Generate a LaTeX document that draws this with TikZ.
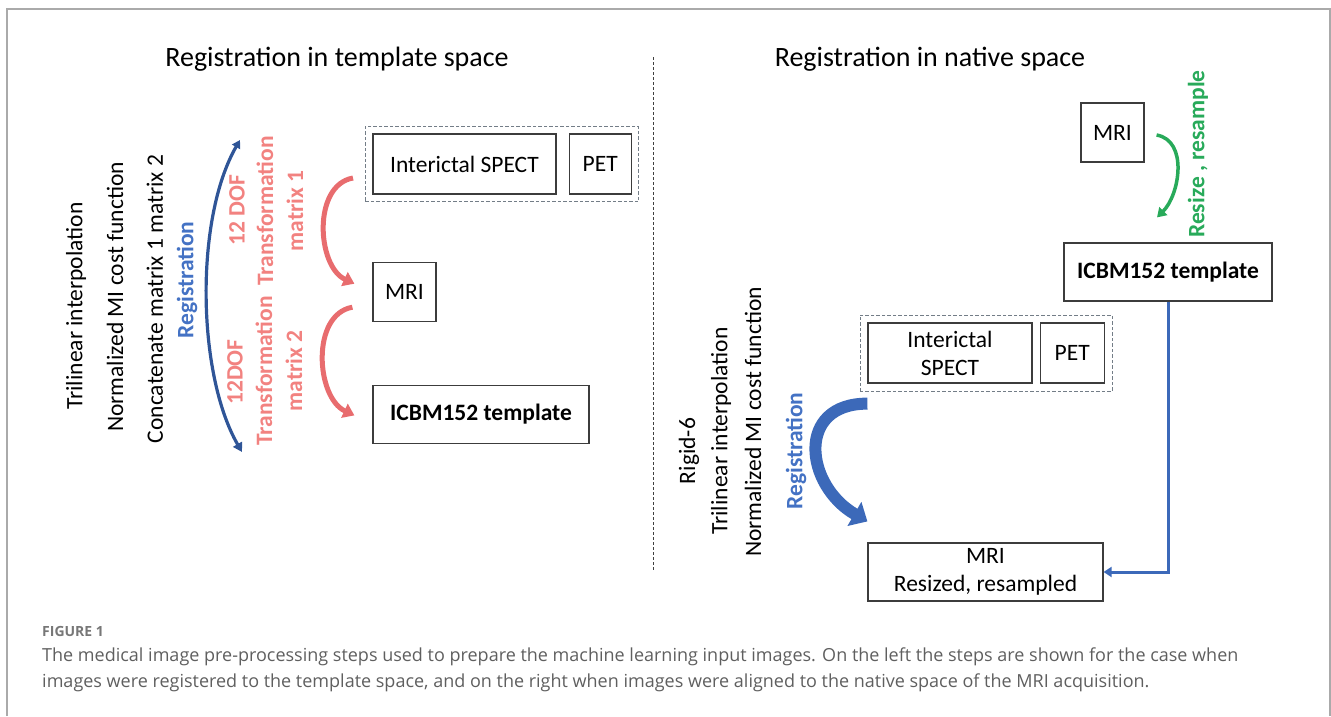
\documentclass[tikz,border=0pt]{standalone}
\usepackage{fontspec}
\setmainfont{Carlito}
\newfontfamily\capfont{Open Sans}
\usetikzlibrary{arrows.meta, positioning, fit, calc}

\definecolor{boxline}{RGB}{60,60,60}
\definecolor{grpline}{RGB}{115,125,135}
\definecolor{redtxt}{RGB}{242,130,128}
\definecolor{redarr}{RGB}{232,108,110}
\definecolor{bluetxt}{RGB}{68,114,196}
\definecolor{bluedark}{RGB}{47,85,151}
\definecolor{bluearr}{RGB}{60,105,185}
\definecolor{greentxt}{RGB}{40,170,90}
\definecolor{framegray}{RGB}{170,170,170}
\definecolor{capgray}{RGB}{95,95,95}

\begin{document}
\begin{tikzpicture}[
        x=1pt, y=-1pt,
        box/.style={draw=boxline, line width=1.2pt, inner sep=0pt, align=center, font=\fontsize{23.5}{28}\selectfont},
        boldbox/.style={box, font=\fontsize{23.5}{28}\selectfont\bfseries},
        group/.style={draw=grpline, line width=0.8pt, dash pattern=on 3.5pt off 2pt, inner sep=7pt},
        title/.style={font=\fontsize{28}{32}\selectfont},
        vtext/.style={rotate=90, align=center, font=\fontsize{23.5}{30}\selectfont},
        vbold/.style={vtext, font=\fontsize{23.5}{30}\selectfont\bfseries},
        redline/.style={draw=redarr, line width=5pt, -{Triangle[width=15pt,length=11pt]}},
        regline/.style={draw=bluedark, line width=3.2pt, {Triangle[width=9pt,length=8pt]}-{Triangle[width=10pt,length=9pt]}},
        bigline/.style={draw=bluearr, line width=12pt, -{Triangle[width=27pt,length=15pt]}},
        greenline/.style={draw=greentxt, line width=3.5pt, -{Triangle[width=11pt,length=9pt]}},
        elbow/.style={draw=bluearr, line width=3pt, -{Triangle[width=10pt,length=8pt]}}
    ]
    \useasboundingbox (0,0) rectangle (1331,716);

    % --- frame and divider ---
    \draw[framegray, line width=1.5pt] (7,716) -- (7,9) -- (1330,9) -- (1330,716);
    \draw[black!75, line width=0.9pt, dash pattern=on 3pt off 2pt] (653,57) -- (653,571);

    % --- Template space ---
    \node[title] (titleL) at (337,59) {Registration in template space};
    \node[box, minimum width=183pt, minimum height=60pt] (spectL) at (464.5,164) {Interictal SPECT};
    \node[box, minimum width=62pt, minimum height=60pt, right=12pt of spectL] (petL) {PET};
    \node[group, fit=(spectL)(petL)] (grpL) {};
    \node[box, minimum width=63pt, minimum height=59pt, below=67pt of spectL.south west, anchor=north west] (mriL) {MRI};
    \node[boldbox, minimum width=216pt, minimum height=58pt, below=63pt of mriL.south west, anchor=north west] (icbmL) {ICBM152 template};

    \node[vtext] (trilinL) at (76,306) {Trilinear interpolation};
    \node[vtext] (costL) at (115,297) {Normalized MI cost function};
    \node[vtext] (concatL) at (155,299) {Concatenate matrix 1 matrix 2};
    \node[vbold, bluetxt] (regL) at (187,280) {Registration};
    \node[vbold, redtxt] (dofA) at (237,210) {12 DOF};
    \node[vbold, redtxt] (tmA) at (280,211) {Transformation\\matrix 1};
    \node[vbold, redtxt] (dofB) at (235,372) {12DOF};
    \node[vbold, redtxt] (tmB) at (279,371) {Transformation\\matrix 2};

    \coordinate (t1s) at ($(grpL.south west)+(-12,-24)$);
    \coordinate (t1e) at ($(mriL.west)+(-18,-8)$);
    \coordinate (t2s) at ($(mriL.west)+(-20,15.5)$);
    \coordinate (t2e) at ($(icbmL.west)+(-18,1)$);
    \coordinate (regtop) at (240,140);
    \coordinate (regbot) at (242,452);

    \draw[redline] (t1s) to[out=190, in=155] (t1e);
    \draw[redline] (t2s) to[out=190, in=155] (t2e);
    \draw[regline] (regtop) to[out=240, in=120, looseness=0.74] (regbot);

    % --- Native space ---
    \node[title] (titleR) at (930,59) {Registration in native space};
    \node[box, minimum width=63pt, minimum height=59pt] (mriR) at (1112.5,132.5) {MRI};
    \node[boldbox, minimum width=208pt, minimum height=58pt] (icbmR) at (1168,272) {ICBM152 template};
    \node[box, minimum width=164pt, minimum height=60pt] (spectR) at (950,353) {Interictal\\SPECT};
    \node[box, minimum width=64pt, minimum height=60pt, right=7pt of spectR] (petR) {PET};
    \node[group, fit=(spectR)(petR), inner sep=7.5pt] (grpR) {};
    \node[box, minimum width=235pt, minimum height=58pt] (mriRes) at (985.5,572) {MRI\\Resized, resampled};

    \node[vtext] (rigidR) at (689,451) {Rigid-6};
    \node[vtext] (trilinR) at (721,431) {Trilinear interpolation};
    \node[vtext] (costR) at (753,422) {Normalized MI cost function};
    \node[vbold, bluetxt] (regR) at (796,451) {Registration};
    \node[vbold, greentxt] (resize) at (1198,154) {Resize , resample};

    \coordinate (gs) at ($(mriR.east)+(12,2.5)$);
    \coordinate (ge) at ($(icbmR.north)+(-11,-25)$);
    \coordinate (rs) at ($(spectR.south west)+(0,20)$);
    \coordinate (re) at ($(mriRes.north west)+(0,-21)$);

    \draw[greenline] (gs) to[out=350, in=45] (ge);
    \draw[bigline] (rs) to[out=180, in=150, looseness=1.57] (re);
    \draw[elbow] (icbmR.south) |- (mriRes.east);

    % --- Caption ---
    \node[anchor=base west, inner sep=0pt, capgray!85, font=\capfont\bfseries\fontsize{14}{17}\selectfont] (figlbl) at (42,636) {FIGURE 1};
    \node[anchor=north west, inner sep=0pt, align=left, capgray, font=\capfont\fontsize{18}{26}\selectfont] (figcap) at (42,648) {The medical image pre-processing steps used to prepare the machine learning input images. On the left the steps are shown for the case when\\images were registered to the template space, and on the right when images were aligned to the native space of the MRI acquisition.};
\end{tikzpicture}
\end{document}
